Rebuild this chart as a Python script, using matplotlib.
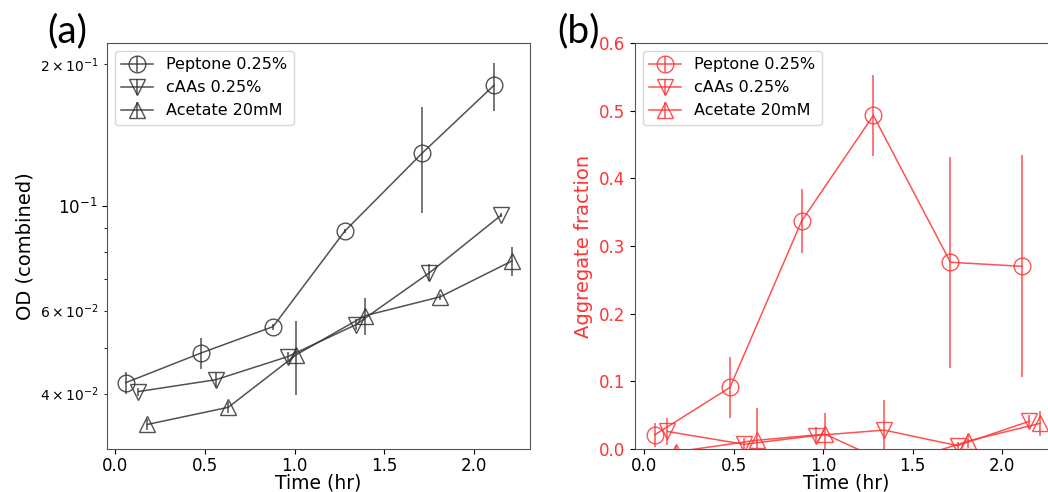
import numpy as np
import matplotlib
matplotlib.use("Agg")
import matplotlib.pyplot as plt

# tiempos (hr) de cada serie
t_pep = [0.06, 0.48, 0.88, 1.28, 1.71, 2.11]
t_caa = [0.13, 0.56, 0.96, 1.34, 1.75, 2.15]
t_ace = [0.18, 0.63, 1.01, 1.39, 1.81, 2.21]

# (a) OD combinada
od_pep = [0.0422, 0.0488, 0.0555, 0.0886, 0.1296, 0.1806]
od_pep_err = [0.0022, 0.0038, 0.0008, 0.0010, 0.0330, 0.0210]
od_caa = [0.0404, 0.0428, 0.0479, 0.0560, 0.0722, 0.0957]
od_caa_err = [0.0008, 0.0015, 0.0010, 0.0015, 0.0030, 0.0010]
od_ace = [0.0344, 0.0374, 0.0484, 0.0585, 0.0642, 0.0765]
od_ace_err = [0.0010, 0.0010, 0.0087, 0.0053, 0.0010, 0.0053]

# (b) fraccion de agregados
ag_pep = [0.021, 0.091, 0.337, 0.493, 0.276, 0.270]
ag_pep_err = [0.018, 0.045, 0.047, 0.060, 0.156, 0.164]
ag_caa = [0.026, 0.007, 0.020, 0.028, 0.005, 0.041]
ag_caa_err = [0.020, 0.010, 0.012, 0.045, 0.006, 0.010]
ag_ace = [-0.004, 0.013, 0.022, -0.024, 0.012, 0.038]
ag_ace_err = [0.008, 0.047, 0.032, 0.010, 0.010, 0.018]

etiquetas = ["Peptone 0.25%", "cAAs 0.25%", "Acetate 20mM"]
marcadores = ["o", "v", "^"]

fig = plt.figure(figsize=(10.48, 4.92), dpi=100)
ax1 = fig.add_axes([0.1021, 0.0873, 0.4036, 0.8253])
ax2 = fig.add_axes([0.6059, 0.0873, 0.4036, 0.8253])

gris = "#333333"
rojo = "#ff3333"

def dibujar(ax, tiempos, vals, errs, color, alpha):
    for t, v, e, m, lab in zip(tiempos, vals, errs, marcadores, etiquetas):
        ax.errorbar(t, v, yerr=e, marker=m, markersize=12, mfc="none",
                    mec=color, color=color, lw=1.1, elinewidth=1.1,
                    alpha=alpha, label=lab)

dibujar(ax1, [t_pep, t_caa, t_ace], [od_pep, od_caa, od_ace],
        [od_pep_err, od_caa_err, od_ace_err], gris, 0.85)
ax1.set_yscale("log")
ax1.set_ylim(0.0305, 0.222)
ax1.set_xlim(-0.045, 2.31)
ax1.set_xlabel("Time (hr)", fontsize=13.5, labelpad=-0.5)
ax1.set_ylabel("OD (combined)", fontsize=14)
ax1.tick_params(labelsize=12)
ax1.tick_params(axis="x", pad=2)
ax1.legend(loc="upper left", fontsize=11.5)

dibujar(ax2, [t_pep, t_caa, t_ace], [ag_pep, ag_caa, ag_ace],
        [ag_pep_err, ag_caa_err, ag_ace_err], rojo, 0.85)
ax2.set_ylim(0, 0.6)
ax2.set_xlim(-0.05, 2.31)
ax2.set_xlabel("Time (hr)", fontsize=13.5, labelpad=-0.5)
ax2.set_ylabel("Aggregate fraction", fontsize=14, color=rojo)
ax2.tick_params(labelsize=12)
ax2.tick_params(axis="x", pad=2)
ax2.tick_params(axis="y", labelcolor=rojo)
ax2.legend(loc="upper left", fontsize=11.5)

for ax in (ax1, ax2):
    for s in ax.spines.values():
        s.set_color("#555555")

fig.text(0.045, 0.915, "(a)", fontsize=28, family="Lato")
fig.text(0.532, 0.915, "(b)", fontsize=28, family="Lato")

fig.savefig("out.png", dpi=100)
